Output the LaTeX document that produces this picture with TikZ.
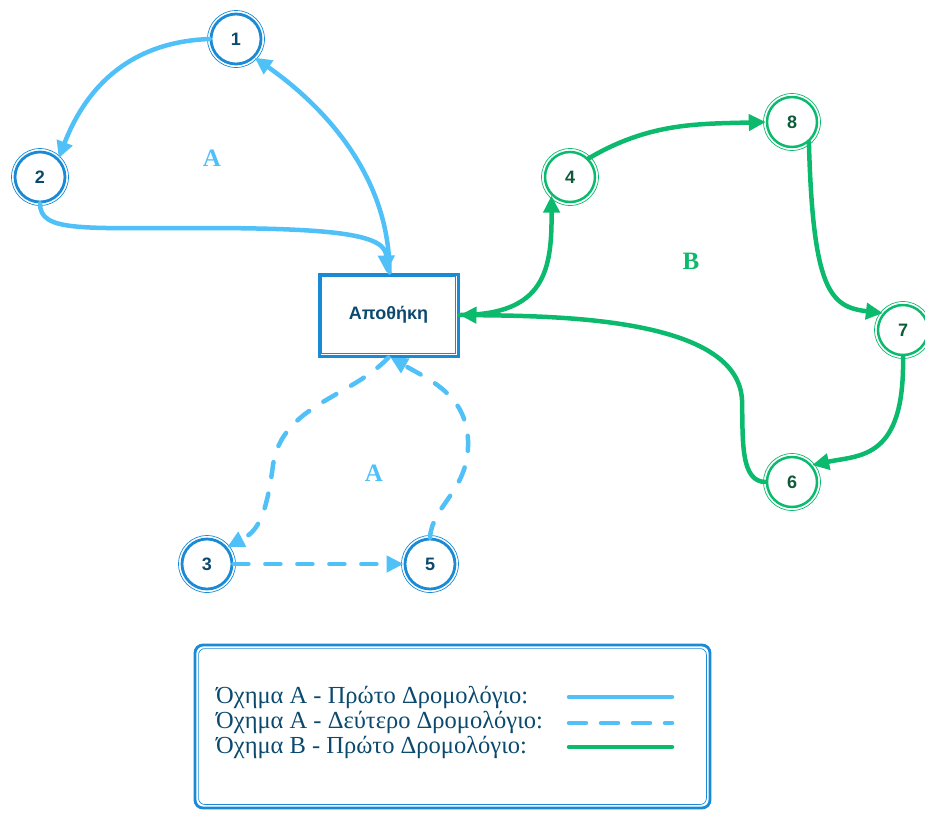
\documentclass[tikz,border=0pt]{standalone}
\usepackage{fontspec}
\setmainfont{Liberation Serif}
\newfontfamily\nodefont{Liberation Sans}
\usetikzlibrary{arrows.meta}
\definecolor{ringblue}{HTML}{1A8AD4}
\definecolor{edgeblue}{HTML}{4FC0F8}
\definecolor{txtblue}{HTML}{0B4A6E}
\definecolor{grn}{HTML}{0CBA6E}
\definecolor{txtgrn}{HTML}{0E5A3A}
\tikzset{
  bnode/.style={circle, draw=ringblue, line width=2.8pt, minimum size=50pt, inner sep=0pt,
    font=\nodefont\bfseries\fontsize{18}{18}\selectfont, text=txtblue},
  gnode/.style={circle, draw=grn, line width=2.5pt, minimum size=50pt, inner sep=0pt,
    font=\nodefont\bfseries\fontsize{18}{18}\selectfont, text=txtgrn},
  bedge/.style={draw=edgeblue, line width=4.5pt, line cap=round,
    -{Triangle[length=17pt,width=16pt]}},
  bdash/.style={bedge, dash pattern=on 15pt off 17pt},
  gedge/.style={draw=grn, line width=4.5pt, line cap=round,
    -{Triangle[length=17pt,width=16pt]}},
  routelbl/.style={font=\bfseries\fontsize{25}{25}\selectfont},
  legtxt/.style={anchor=west, text=txtblue, font=\fontsize{24.5}{24.5}\selectfont, inner sep=0pt},
}
\begin{document}
\begin{tikzpicture}[x=1pt,y=-1pt]
\useasboundingbox (0,0) rectangle (925,812);

% depot
\node[draw=ringblue, line width=3pt, minimum width=139pt, minimum height=82pt,
  font=\nodefont\bfseries\fontsize{18}{18}\selectfont, text=txtblue] (box) at (388.5,315) {Αποθήκη};
\draw[ringblue, line width=0.7pt] ([shift={(4,-4)}]box.south west) rectangle ([shift={(-4,4)}]box.north east);

% nodes
\node[bnode] (n1) at (236,39) {1};
\node[bnode] (n2) at (40,177) {2};
\node[bnode] (n3) at (207,564) {3};
\node[bnode] (n5) at (430,564) {5};
\node[gnode] (n4) at (570,177) {4};
\node[gnode] (n8) at (792,122) {8};
\node[gnode] (n7) at (903,330) {7};
\node[gnode] (n6) at (792,482) {6};
\foreach \n in {n1,n2,n3,n5} \draw[ringblue, line width=0.7pt] (\n) circle (28.5pt);
\foreach \n in {n4,n8,n7,n6} \draw[grn, line width=0.7pt] (\n) circle (28.5pt);

% route labels
\node[routelbl, text=edgeblue] (la1) at (212,158) {Α};
\node[routelbl, text=edgeblue] (la2) at (374,473) {Α};
\node[routelbl, text=grn] (lb) at (691,261) {Β};

% vehicle A, first route
\draw[bedge] ([xshift=1pt]box.north) .. controls +(0,-110) and +(50,35) .. (n1.south east);
\draw[bedge] (n1.west) .. controls +(-85,3) and +(25,-65) .. (n2.north east);
\draw[bedge] (n2.south) .. controls (40,232) and (80,228) .. (200,228) .. controls (340,228) and (386,235) .. ([xshift=-2pt]box.north);

% vehicle A, second route
\draw[bdash] (box.south) .. controls (350,398) and (282,405) .. (273,465) .. controls (266,520) and (256,532) .. (n3.40);
\draw[bdash] (n3.east) -- (n5.west);
\draw[bdash] (n5.north) .. controls (432,505) and (470,490) .. (468,440) .. controls (466,395) and (430,380) .. ([xshift=2pt]box.south);

% vehicle B
\draw[gedge] (box.east) .. controls (545,315) and (552,270) .. (n4.south west);
\draw[gedge] (n4.north east) .. controls (650,122) and (700,124) .. (n8.west);
\draw[gedge] (n8.-50) .. controls (813,290) and (830,307) .. (n7.140);
\draw[gedge] (n7.south) .. controls (905,460) and (860,455) .. (n6.40);
\draw[gedge] (n6.west) .. controls (740,482) and (743,440) .. (742,400) .. controls (738,318) and (560,316) .. (box.east);

% legend
\node[draw=ringblue, line width=2.8pt, rounded corners=8pt, minimum width=515pt, minimum height=163pt] (leg) at (452.5,726.5) {};
\draw[ringblue, line width=0.7pt, rounded corners=6pt] ([shift={(5,-5)}]leg.south west) rectangle ([shift={(-5,5)}]leg.north east);
\node[legtxt] (t1) at (216,697) {Όχημα Α - Πρώτο Δρομολόγιο:};
\node[legtxt] (t2) at (216,722) {Όχημα Α - Δεύτερο Δρομολόγιο:};
\node[legtxt] (t3) at (216,747) {Όχημα Β - Πρώτο Δρομολόγιο:};
\coordinate (s1a) at (569,697); \coordinate (s1b) at (672,697);
\coordinate (s2a) at (569,723); \coordinate (s2b) at (672,723);
\coordinate (s3a) at (569,747); \coordinate (s3b) at (672,747);
\draw[edgeblue, line width=4.5pt, line cap=round] (s1a) -- (s1b);
\draw[edgeblue, line width=4.5pt, line cap=round, dash pattern=on 17pt off 15pt] (s2a) -- (s2b);
\draw[grn, line width=4.5pt, line cap=round] (s3a) -- (s3b);
\end{tikzpicture}
\end{document}
